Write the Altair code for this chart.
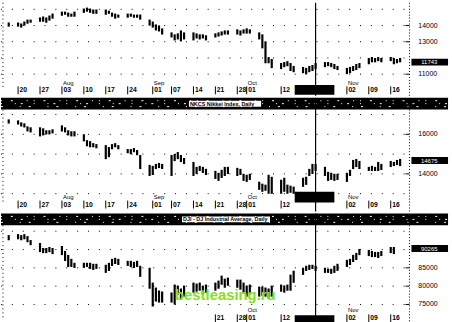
import altair as alt
import pandas as pd

# ---------------- data ----------------
trade_days = [d.strftime("%Y-%m-%d") for d in pd.bdate_range("1998-07-17", "1998-11-19")]

# Panel 1 (top) daily high / low
a_hi = [14120, 14120, 14060, 14180, 14300, 14300,
        14430, 14490, 14430, 14550, 14670,
        14790, 14790, 14730, 14670, 14790,
        14980, 15040, 14980, 14920, 14920,
        14920, 14850, 14730, 14670, 14610,
        14670, 14670, 14610, 14610, 14610,
        14300, 14180, 14000, 13940, 13760,
        13510, 13390, 13450, 13630, 13510,
        13510, 13450, 13390, 13390, 13330,
        13450, 13510, 13570, 13630, 13630,
        13700, 13630, 13700, 13760, 13700,
        13510, 13390, 12960, 11990, 11870,
        11620, 11680, 11740, 11620, 11440,
        11380, 11320, 11440, 11500, 11620,
        11680, 11680, 11620, 11560, 11440,
        11320, 11380, 11440, 11560, 11620,
        11930, 11990, 11930, 11990, 11930,
        11990, 11930, 11870, 11930]
a_lo = [14000, 14000, 13940, 14060, 14180, 14240,
        14300, 14300, 14240, 14370, 14490,
        14670, 14730, 14610, 14610, 14610,
        14850, 14920, 14850, 14790, 14790,
        14730, 14790, 14610, 14490, 14550,
        14550, 14610, 14550, 14550, 14430,
        14060, 13940, 13760, 13700, 13510,
        13330, 13150, 13210, 13090, 13210,
        13150, 13270, 13210, 13270, 13150,
        13330, 13390, 13450, 13510, 13510,
        13510, 13450, 13570, 13570, 13570,
        13210, 12660, 11740, 11740, 11440,
        11380, 11500, 11560, 11260, 11190,
        11130, 11070, 11190, 11260, 11380,
        11500, 11560, 11500, 11380, 11320,
        11070, 11130, 11260, 11320, 11440,
        11680, 11800, 11800, 11870, 11800,
        11870, 11680, 11740, 11800]

# Panel 2 (NKCS Nikkei Index) daily high / low
b_hi = [16700, 16650, 16550, 16500, 16350, 16300,
        16300, 16250, 16150, 16150, 16200,
        16400, 16300, 16150, 16100, 16100,
        15950, 15650, 15600, 15500, 15450,
        15400, 15300, 15450, 15500, 15400,
        15200, 15200, 15250, 15150, 14900,
        14400, 14350, 14450, 14500, 14450,
        14900, 14950, 15050, 14900, 14750,
        14550, 14300, 14350, 14300, 14200,
        14100, 14000, 14150, 14300, 14300,
        14250, 14200, 13950, 13900, 13950,
        13550, 13450, 13400, 13900, 13800,
        13650, 13750, 13400, 13350, 13300,
        13750, 13800, 14200, 14450, 14450,
        14300, 14050, 14000, 13950, 13950,
        14000, 14150, 14650, 14700, 14600,
        14300, 14350, 14300, 14550, 14450,
        14600, 14550, 14650, 14700]
b_lo = [16600, 16550, 16450, 16400, 16200, 16150,
        15950, 16000, 16050, 16050, 16100,
        16200, 16150, 16000, 15950, 15950,
        15700, 15450, 15400, 15400, 15350,
        14800, 14900, 15300, 15400, 15300,
        15100, 15050, 15150, 15000, 14300,
        13950, 14000, 14300, 14350, 14300,
        13950, 14700, 14800, 14650, 14550,
        13950, 14050, 14200, 14100, 14000,
        13800, 13700, 13850, 13950, 14050,
        13950, 14000, 13700, 13650, 13750,
        13250, 13150, 13200, 13050, 13050,
        13050, 13150, 13050, 13100, 13050,
        13400, 13500, 13950, 14050, 14200,
        13950, 13700, 13750, 13700, 13750,
        13650, 13950, 14300, 14400, 14300,
        14200, 14200, 14200, 14200, 14250,
        14400, 14450, 14500, 14450]

# Panel 3 (DJI DJ Industrial Average) daily high / low
c_hi = [93640, 93910, 93640, 93910, 93370, 92290,
        91480, 90130, 90130, 90400, 90130,
        90670, 89320, 88240, 87160, 86080,
        86080, 86080, 86080, 85810, 85810,
        85540, 86080, 87160, 87430, 87160,
        86620, 86620, 86350, 86620, 85270,
        84730, 80680, 79330, 78520, 78250,
        77980, 80140, 79870, 79060, 79870,
        80680, 80410, 80680, 79870, 80140,
        80680, 81220, 82570, 81760, 82030,
        81490, 81490, 80680, 79870, 80140,
        79600, 79600, 79330, 79060, 79870,
        80140, 79870, 80140, 82840, 83920,
        84730, 85270, 85540, 85540, 85270,
        84730, 84460, 84460, 85270, 85810,
        86890, 87160, 88240, 88780, 89860,
        89590, 89320, 89050, 89050, 89320,
        90400, 90400, None, None]
c_lo = [92830, 93100, 92830, 93100, 92290, 91480,
        89590, 89320, 89320, 89590, 89050,
        88780, 87160, 85540, 85540, 85270,
        85270, 85540, 85000, 84730, 85000,
        83920, 84460, 85810, 86350, 86080,
        85810, 85540, 85270, 85540, 82840,
        79600, 74740, 76090, 75820, 75820,
        75820, 75280, 77980, 76630, 77440,
        78520, 78790, 79060, 77980, 78520,
        79060, 79600, 80680, 79870, 80410,
        79870, 79330, 78520, 77440, 77980,
        77440, 77710, 77440, 76900, 77440,
        78790, 78520, 79060, 79060, 81220,
        83380, 84460, 84730, 85000, 84460,
        83920, 83920, 83650, 83920, 84460,
        85540, 86080, 86890, 87430, 88780,
        88510, 88240, 88240, 87970, 88510,
        89320, 89050, None, None]

tick_dates = ["1998-07-20", "1998-07-27", "1998-08-03", "1998-08-10", "1998-08-17",
              "1998-08-24", "1998-09-01", "1998-09-07", "1998-09-14", "1998-09-21",
              "1998-09-28", "1998-10-01", "1998-10-12", "1998-11-02", "1998-11-09",
              "1998-11-16"]
tick_labels = ["20", "27", "03", "10", "17", "24", "01", "07", "14", "21",
               "28", "01", "12", "02", "09", "16"]
month_dates = ["1998-08-03", "1998-09-01", "1998-10-01", "1998-11-02"]
month_labels = ["Aug", "Sep", "Oct", "Nov"]

cursor_date = "1998-10-23"
box_dates = ["1998-10-16 08:00", "1998-10-29 00:00"]

a_grid = [15000, 14000, 13000, 12000, 11000]
a_axis = [14000, 13000, 11000]
a_last = 11743
b_grid = [17000, 16000, 15000, 14000, 13000]
b_axis = [16000, 14000]
b_last = 14675
c_grid = [95000, 90000, 85000, 80000, 75000]
c_axis = [85000, 80000, 75000]
c_last = 90265

band1_text = "NKCS   Nikkei Index, Daily"
band2_text = "DJI - DJ Industrial Average, Daily"

# ---------------- helpers ----------------
ORIGIN = pd.Timestamp("1998-07-20")


def day(s):
    return (pd.Timestamp(s) - ORIGIN) / pd.Timedelta(days=1)


X_DOM = [(0 - 17.3) / 3.166, (452 - 17.3) / 3.166]
W = 452
FONT = "Liberation Sans"


def xq(field="day"):
    return alt.X(f"{field}:Q", scale=alt.Scale(domain=X_DOM, nice=False, zero=False), axis=None)


one = pd.DataFrame({"k": [0]})


def panel(hi, lo, ydom, H, grid, axis_vals, last, band, rows, label_from):
    ys = alt.Scale(domain=ydom, nice=False, zero=False)

    def yq(f):
        return alt.Y(f"{f}:Q", scale=ys, axis=None)

    day_row, month_row, box_y0, box_y1 = rows
    top = band[1] if band else 0
    layers = []

    gdf = pd.DataFrame({"v": grid})
    layers.append(alt.Chart(gdf).mark_rule(color="black", strokeDash=[1, 10], strokeWidth=1).encode(
        y=yq("v"), x=alt.value(0), x2=alt.value(413)))
    # left & right dotted edges
    layers.append(alt.Chart(one).mark_rule(color="black", strokeDash=[1, 3]).encode(
        x=alt.value(2), y=alt.value(top), y2=alt.value(H - 8)))
    layers.append(alt.Chart(one).mark_rule(color="black", strokeDash=[1, 2]).encode(
        x=alt.value(413), y=alt.value(top), y2=alt.value(H)))

    # price bars
    df = pd.DataFrame({"day": [day(d) for d in trade_days], "hi": hi, "lo": lo}).dropna()
    layers.append(alt.Chart(df).mark_rule(color="black", strokeWidth=2.2, strokeCap="square").encode(
        x=xq(), y=yq("hi"), y2="lo"))

    # right axis labels + small ticks
    adf = pd.DataFrame({"v": axis_vals, "t": [str(v) for v in axis_vals]})
    layers.append(alt.Chart(adf).mark_rule(color="black").encode(
        y=yq("v"), x=alt.value(409), x2=alt.value(413)))
    layers.append(alt.Chart(adf).mark_text(align="left", baseline="middle", fontSize=7,
                                           font=FONT, color="black").encode(
        y=yq("v"), x=alt.value(422), text="t:N"))

    # last value box
    ldf = pd.DataFrame({"v": [last], "t": [str(last)]})
    layers.append(alt.Chart(ldf).mark_rule(color="black", strokeWidth=7).encode(
        y=yq("v"), x=alt.value(415), x2=alt.value(452)))
    layers.append(alt.Chart(ldf).mark_text(align="center", baseline="middle", fontSize=6,
                                           font=FONT, color="white").encode(
        y=yq("v"), x=alt.value(433), text="t:N"))

    # date ticks & labels
    sel = [i for i, d in enumerate(tick_dates) if d >= label_from]
    tdf = pd.DataFrame({"day": [day(tick_dates[i]) for i in sel],
                        "t": [tick_labels[i] for i in sel]})
    layers.append(alt.Chart(tdf).mark_rule(color="black", strokeWidth=1).encode(
        x=xq(), y=alt.value(day_row - 4), y2=alt.value(day_row + 4)))
    layers.append(alt.Chart(tdf).mark_text(align="left", baseline="middle", fontSize=6.8,
                                           fontWeight="bold", font=FONT, dx=1.5).encode(
        x=xq(), y=alt.value(day_row), text="t:N"))
    msel = [i for i, d in enumerate(month_dates) if d >= label_from]
    mdf = pd.DataFrame({"day": [day(month_dates[i]) for i in msel],
                        "t": [month_labels[i] for i in msel]})
    layers.append(alt.Chart(mdf).mark_text(align="left", baseline="middle", fontSize=6,
                                           font=FONT, dx=1).encode(
        x=xq(), y=alt.value(month_row), text="t:N"))

    # black box over date row
    bdf = pd.DataFrame({"day": [day(box_dates[0])], "day2": [day(box_dates[1])]})
    layers.append(alt.Chart(bdf).mark_rect(color="black").encode(
        x=xq(), x2="day2", y=alt.value(box_y0), y2=alt.value(box_y1)))

    # header band
    if band:
        b0, b1, bx0, bx1, btxt = band
        layers.append(alt.Chart(one).mark_rect(color="black").encode(
            x=alt.value(0), x2=alt.value(W), y=alt.value(b0), y2=alt.value(b1)))
        for k, dash in [(b0 + 3, [1, 9, 2, 14, 1, 6]), (b0 + 6, [1, 13, 1, 5, 2, 11]),
                        (b0 + 9, [2, 17, 1, 8])]:
            layers.append(alt.Chart(one).mark_rule(color="white", strokeDash=dash, strokeWidth=1).encode(
                x=alt.value(0), x2=alt.value(W), y=alt.value(k)))
        layers.append(alt.Chart(one).mark_rect(color="white").encode(
            x=alt.value(bx0), x2=alt.value(bx1), y=alt.value(b0 + 3), y2=alt.value(b1 - 3)))
        layers.append(alt.Chart(pd.DataFrame({"t": [btxt]})).mark_text(
            align="left", baseline="middle", fontSize=5.5, font=FONT,
            fontWeight="bold", color="black").encode(
            x=alt.value(bx0 + 1), y=alt.value((b0 + b1) / 2), text="t:N"))

    # cursor line
    cdf = pd.DataFrame({"day": [day(cursor_date)]})
    layers.append(alt.Chart(cdf).mark_rule(color="black", strokeWidth=1.2).encode(
        x=xq(), y=alt.value(0), y2=alt.value(H)))

    return alt.layer(*layers).properties(width=W, height=H)


pA = panel(a_hi, a_lo, [9669, 15403], 94, a_grid, a_axis, a_last, None,
           (88.5, 81, 83, 93), "1998-07-01")
pB = panel(b_hi, b_lo, [12100, 17850], 115, b_grid, b_axis, b_last,
           (0, 12, 190, 263, band1_text), (108, 100, 95, 106), "1998-07-01")
pC = panel(c_hi, c_lo, [69340, 99850], 113, c_grid, c_axis, c_last,
           (0, 12, 183, 272, band2_text), (106, 98, 103, 111), "1998-09-21")

wm = alt.Chart(pd.DataFrame({"t": ["bestleasing.ru"]})).mark_text(
    align="left", baseline="alphabetic", fontSize=15, fontWeight="bold",
    font="Liberation Sans", color="#86e01e").encode(
    x=alt.value(176), y=alt.value(88), text="t:N")
pC = alt.layer(pC, wm)

chart = alt.vconcat(pA, pB, pC, spacing=0).properties(padding=0).configure_view(stroke=None)

chart.save("out.html", embed_options={"renderer": "svg", "actions": False})
